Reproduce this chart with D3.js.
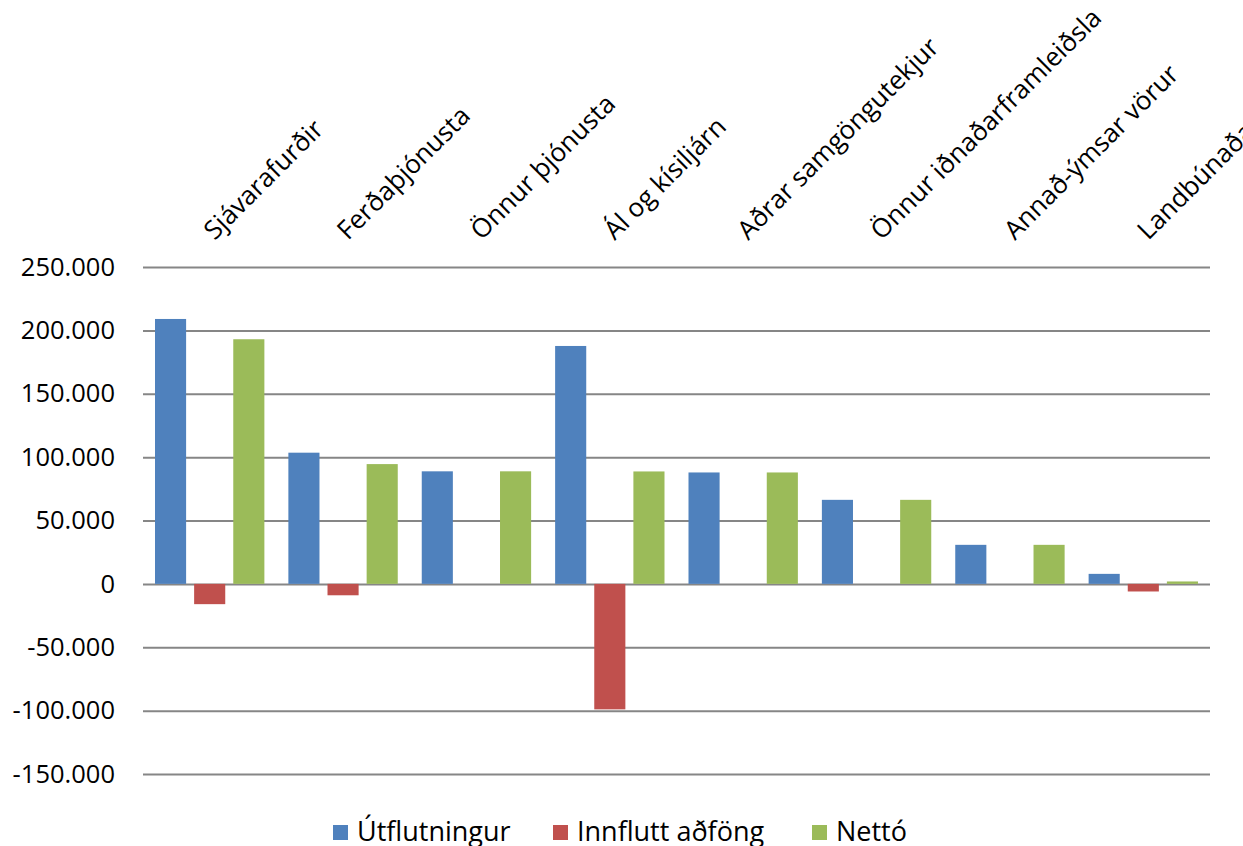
<!DOCTYPE html>
<html>
<head>
<meta charset="utf-8">
<script src="https://cdn.jsdelivr.net/npm/d3@7"></script>
<style>
  body { margin: 0; background: #fff; }
  text { font-family: "Open Sans", "Noto Sans", sans-serif; fill: #000; }
</style>
</head>
<body>
<div id="chart"></div>
<script>
// data
var categories = ["Sjávarafurðir", "Ferðaþjónusta", "Önnur þjónusta", "Ál og kísiljárn",
                  "Aðrar samgöngutekjur", "Önnur iðnaðarframleiðsla", "Annað-ýmsar vörur", "Landbúnaðarvörur"];
var seriesNames = ["Útflutningur", "Innflutt aðföng", "Nettó"];
var utflutningur = [209000, 103500, 88800, 187700, 87900, 66300, 30800, 7900];
var innflutt     = [-16000, -9000, 0, -99000, 0, 0, 0, -6000];
var netto        = [193000, 94500, 88800, 88700, 87900, 66300, 30800, 1900];
var yTicks = [-150000, -100000, -50000, 0, 50000, 100000, 150000, 200000, 250000];
var colors = ["#4F81BD", "#C0504D", "#9BBB59"];

var W = 1243, H = 846;
var plot = {left: 143, right: 1210, top: 267, bottom: 774};

var svg = d3.select("#chart").append("svg")
    .attr("width", W)
    .attr("height", H);

var x0 = d3.scaleBand().domain(categories).range([plot.left, plot.right]);
var x1 = d3.scaleBand().domain(seriesNames).range([12, x0.bandwidth() - 12]).paddingInner(0.205);
var y = d3.scaleLinear().domain([-150000, 250000]).range([plot.bottom, plot.top]);

var fmt = function(v) {
  var s = d3.format(",")(Math.abs(v)).replace(/,/g, ".");
  return (v < 0 ? "-" : "") + s;
};

// gridlines + y labels via axis
var yAxis = svg.append("g")
    .attr("transform", "translate(" + plot.left + ",0)")
    .call(d3.axisLeft(y).tickValues(yTicks).tickSize(-(plot.right - plot.left)).tickFormat(fmt).tickPadding(28));
yAxis.select(".domain").remove();
yAxis.selectAll("line").attr("stroke", "#868686").attr("stroke-width", 2);
yAxis.selectAll("text")
    .style("font-size", "25.5px")
    .attr("fill", "#000");

// bars
var rows = categories.map(function(c, i) {
  return {cat: c, vals: [utflutningur[i], innflutt[i], netto[i]]};
});

var groups = svg.selectAll("g.cat")
  .data(rows)
  .enter().append("g")
    .attr("class", "cat")
    .attr("transform", function(d) { return "translate(" + x0(d.cat) + ",0)"; });

groups.selectAll("rect")
  .data(function(d) { return d.vals.map(function(v, k) { return {s: seriesNames[k], v: v, k: k}; }); })
  .enter().append("rect")
    .attr("x", function(d) { return x1(d.s); })
    .attr("y", function(d) { return y(Math.max(0, d.v)); })
    .attr("width", x1.bandwidth())
    .attr("height", function(d) { return Math.abs(y(d.v) - y(0)); })
    .attr("fill", function(d) { return colors[d.k]; });

// category labels, rotated at the top
svg.append("g").selectAll("text")
  .data(categories)
  .enter().append("text")
    .attr("transform", function(d) {
      return "translate(" + (x0(d) + x0.bandwidth() / 2 + 5) + ",241) rotate(-45)";
    })
    .attr("text-anchor", "start")
    .style("font-size", "26px")
    .text(function(d) { return d; });

// legend
var legendX = [333, 553, 812];
var legend = svg.append("g").selectAll("g")
  .data(seriesNames)
  .enter().append("g")
    .attr("transform", function(d, i) { return "translate(" + legendX[i] + ",825)"; });
legend.append("rect")
    .attr("width", 15).attr("height", 15)
    .attr("fill", function(d, i) { return colors[i]; });
legend.append("text")
    .attr("x", 24).attr("y", 16)
    .style("font-size", "27px")
    .text(function(d) { return d; });
</script>
</body>
</html>
